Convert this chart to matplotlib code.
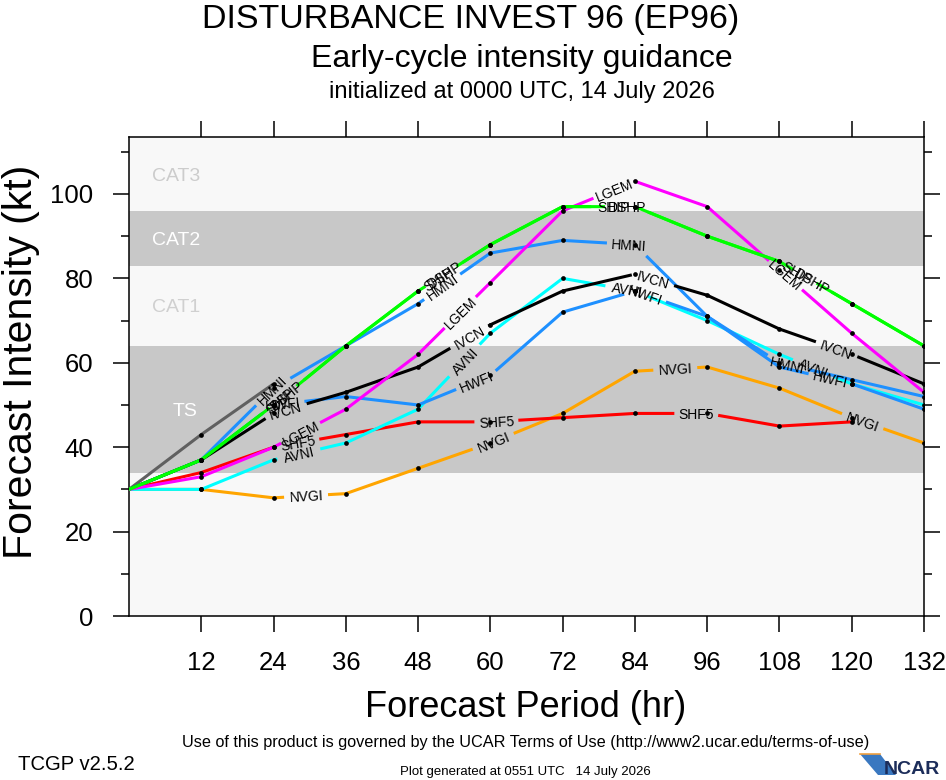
import numpy as np
import matplotlib.pyplot as plt
from matplotlib import font_manager
from matplotlib.patches import Polygon

plt.rcParams['font.family'] = 'Liberation Sans'

# narrow font for the footer, if there is one
names = {f.name for f in font_manager.fontManager.ttflist}
narrow = 'Liberation Sans Narrow' if 'Liberation Sans Narrow' in names else 'Liberation Sans'
nscale = 1.0 if narrow == 'Liberation Sans Narrow' else 0.87

hours = np.arange(0, 133, 12)

xtrp = [30, 43, 55]
nvgi = [30, 30, 28, 29, 35, 41, 48, 58, 59, 54, 47, 41]
shf5 = [30, 34, 40, 43, 46, 46, 47, 48, 48, 45, 46]
avni = [30, 30, 37, 41, 49, 67, 80, 77, 70, 62, 55, 50]
hwfi = [30, 37, 50, 52, 50, 57, 72, 77, 71, 59, 55, 49]
hmni = [30, 37, 54, 64, 74, 86, 89, 88, 71, 60, 56, 52]
ivcn = [30, 37, 48, 53, 59, 69, 77, 81, 76, 68, 62, 55]
lgem = [30, 33, 40, 49, 62, 79, 96, 103, 97, 82, 67, 53]
dshp = [30, 37, 50, 64, 77, 88, 97, 97, 90, 84, 74, 64]
ship = [30, 37, 50, 64, 77, 88, 97, 97, 90, 84, 74, 64]

# where the model names sit along each line (forecast hour)
lab_xtrp = []
lab_nvgi = [29.4, 60.5, 90.7, 121.8]
lab_shf5 = [28, 61, 94.2]
lab_avni = [28.2, 55.7, 82.7, 113.6]
lab_hwfi = [25.5, 57.7, 85.7, 116.4]
lab_hmni = [23.7, 52, 83, 109.3]
lab_ivcn = [26, 56.5, 87, 117.5]
lab_lgem = [28.5, 55, 80.5, 109]
lab_dshp = [26.2, 52.3, 82.7, 113.5]
lab_ship = [25, 51.3, 80.4, 111]

models = [
    ('XTRP', xtrp, '#606060', lab_xtrp),
    ('NVGI', nvgi, '#ffa500', lab_nvgi),
    ('SHF5', shf5, '#ff0000', lab_shf5),
    ('AVNI', avni, '#00ffff', lab_avni),
    ('HWFI', hwfi, '#1e90ff', lab_hwfi),
    ('HMNI', hmni, '#1e90ff', lab_hmni),
    ('IVCN', ivcn, '#000000', lab_ivcn),
    ('LGEM', lgem, '#ff00ff', lab_lgem),
    ('DSHP', dshp, '#00ff00', lab_dshp),
    ('SHIP', ship, '#00ff00', lab_ship),
]

bands = [(34, 64, 'TS'), (83, 96, 'CAT2')]
band_names = [('CAT3', 104.7, '#cccccc', 7.8), ('CAT2', 89.5, 'white', 7.8),
              ('CAT1', 73.5, '#d0d0d0', 7.8), ('TS', 49, 'white', 9.3)]

fig = plt.figure(figsize=(9.46, 7.8), dpi=100)
ax = fig.add_axes([129 / 946, 1 - 616 / 780, 795 / 946, 479 / 780])
ax.set_xlim(0, 132)
ax.set_ylim(0, 113.5)
ax.set_facecolor('#f8f8f8')
for lo, hi, _ in bands:
    ax.axhspan(lo, hi, color='#c8c8c8', lw=0, zorder=0)
for txt, yy, col, xx in band_names:
    ax.text(xx, yy, txt, color=col, fontsize=14, ha='center', va='center_baseline', zorder=1)


def cut_line(h, v, lab_hrs, gap=44):
    xy = np.column_stack([h, v]).astype(float)
    d = ax.transData.transform(xy)
    seg = np.hypot(*np.diff(d, axis=0).T)
    cum = np.concatenate([[0], np.cumsum(seg)])

    def at(s):
        i = int(np.clip(np.searchsorted(cum, s, side='right') - 1, 0, len(seg) - 1))
        t = (s - cum[i]) / seg[i]
        return xy[i] + t * (xy[i + 1] - xy[i])

    gaps, labs = [], []
    for lh in lab_hrs:
        i = int(np.clip(np.searchsorted(h, lh, side='right') - 1, 0, len(seg) - 1))
        t = (lh - h[i]) / (h[i + 1] - h[i])
        s = cum[i] + t * seg[i]
        p = xy[i] + t * (xy[i + 1] - xy[i])
        dd = d[i + 1] - d[i]
        labs.append((p[0], p[1], np.degrees(np.arctan2(dd[1], dd[0]))))
        gaps.append((max(s - gap / 2, 0), min(s + gap / 2, cum[-1])))
    bounds = [0.0] + [g for pair in gaps for g in pair] + [cum[-1]]
    pieces = []
    for a, b in zip(bounds[0::2], bounds[1::2]):
        if b <= a:
            continue
        inner = [xy[k] for k in range(len(xy)) if a < cum[k] < b]
        pieces.append(np.array([at(a)] + inner + [at(b)]))
    return pieces, labs


for name, vals, col, labhrs in models:
    h = hours[:len(vals)]
    pieces, labs = cut_line(h, vals, labhrs)
    for p in pieces:
        ax.plot(p[:, 0], p[:, 1], color=col, lw=2.2, solid_capstyle='butt', zorder=3)
    ax.plot(h[1:], vals[1:], 'o', color='black', ms=3.4, mew=0, zorder=4)
    for lx, ly, ang in labs:
        ax.text(lx, ly, name, rotation=ang, rotation_mode='anchor', ha='center',
                va='center_baseline', fontsize=10, zorder=5)

ax.set_xticks(np.arange(12, 133, 12))
ax.set_yticks(np.arange(0, 101, 20))
ax.set_yticks(np.arange(10, 114, 20), minor=True)
ax.tick_params(which='major', direction='out', length=11.5, width=1.1, labelsize=18.5,
               pad=14, top=True, right=True)
ax.tick_params(axis='y', which='minor', direction='out', length=5.8, width=1.1,
               left=True, right=True)
ax.tick_params(axis='x', which='minor', bottom=False, top=False)
for sp in ax.spines.values():
    sp.set_linewidth(1.1)

fig.text(526 / 946, 1 - 717 / 780, 'Forecast Period (hr)', fontsize=26, ha='center', va='baseline')
fig.text(21 / 946, 1 - 362 / 780, 'Forecast Intensity (kt)', fontsize=29.5, rotation=90,
         ha='center', va='center')

fig.text(471 / 946, 1 - 28 / 780, 'DISTURBANCE INVEST 96 (EP96)', fontsize=24.5, ha='center', va='baseline')
fig.text(522 / 946, 1 - 67 / 780, 'Early-cycle intensity guidance', fontsize=23, ha='center', va='baseline')
fig.text(522 / 946, 1 - 98 / 780, 'initialized at 0000 UTC, 14 July 2026', fontsize=17, ha='center', va='baseline')

fig.text(526 / 946, 1 - 747 / 780,
         'Use of this product is governed by the UCAR Terms of Use (http://www2.ucar.edu/terms-of-use)',
         fontsize=13.4 * nscale, family=narrow, ha='center', va='baseline')
fig.text(18 / 946, 1 - 770 / 780, 'TCGP v2.5.2', fontsize=16.8 * nscale, family=narrow, ha='left', va='baseline')
fig.text(525 / 946, 1 - 775 / 780, 'Plot generated at 0551 UTC   14 July 2026', fontsize=11 * nscale,
         family=narrow, ha='center', va='baseline')

# NCAR logo
sw = Polygon([[860 / 946, 1 - 754 / 780], [880 / 946, 1 - 754 / 780], [896 / 946, 1 - 775 / 780],
              [878 / 946, 1 - 775 / 780]], closed=True, transform=fig.transFigure,
             facecolor='#3a78c0', edgecolor='none')
fig.patches.append(sw)
fig.lines.append(plt.Line2D([860 / 946, 880 / 946], [1 - 754 / 780, 1 - 754 / 780],
                            transform=fig.transFigure, color='#f0a040', lw=1.2))
fig.text(940 / 946, 1 - 774 / 780, 'NCAR', fontsize=14, weight='bold',
         color='#1c2d5a', ha='right', va='baseline')

fig.savefig('out.png', dpi=100)
